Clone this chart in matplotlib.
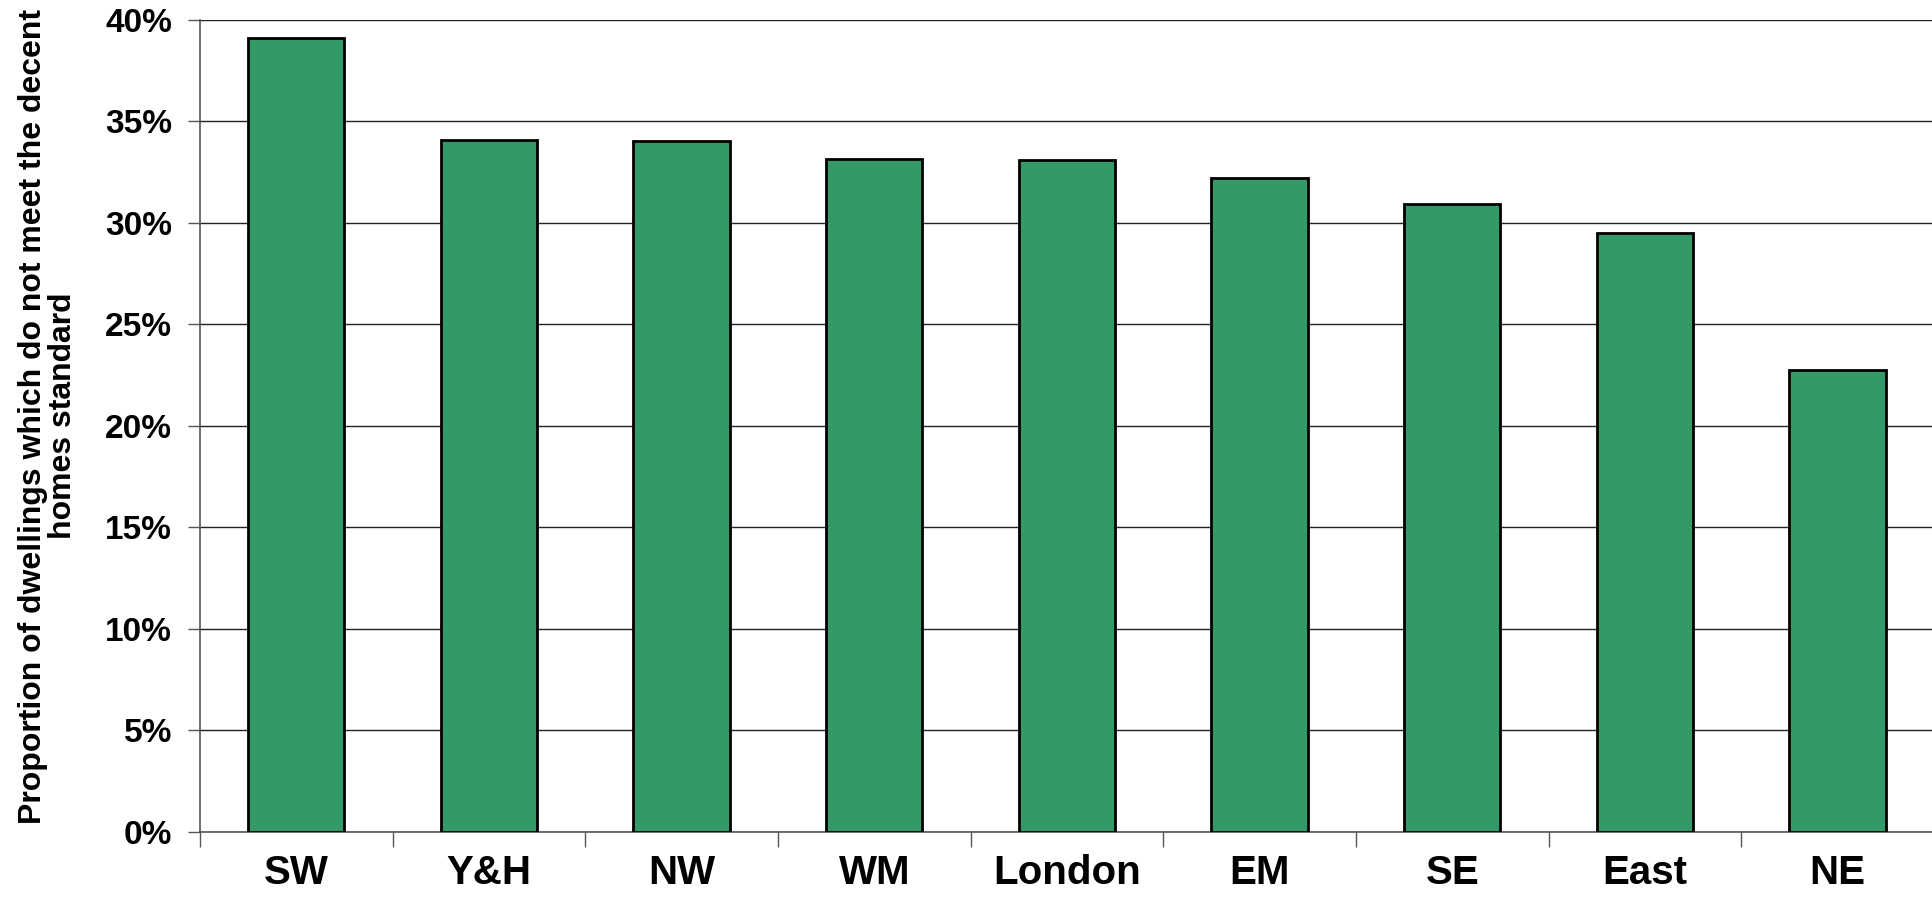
import numpy as np
import matplotlib.pyplot as plt
from matplotlib.ticker import PercentFormatter, FixedLocator

plt.rcParams['font.family'] = ['Liberation Sans', 'DejaVu Sans']

regions = ["SW", "Y&H", "NW", "WM", "London", "EM", "SE", "East", "NE"]
non_decent = [39.1, 34.1, 34.05, 33.15, 33.1, 32.2, 30.95, 29.5, 22.75]  # percent
y_ticks = [0, 5, 10, 15, 20, 25, 30, 35, 40]

fig = plt.figure(figsize=(19.32, 8.97), dpi=100)
ax = fig.add_axes([0.1035, 0.0725, 0.8975, 0.9052])

x = np.arange(len(regions))
ax.bar(x, non_decent, width=0.5, color="#339966", edgecolor="black", linewidth=2.0, zorder=3)

ax.set_xlim(-0.5, len(regions) - 0.5)
ax.set_ylim(0, 40)
ax.set_yticks(y_ticks)
ax.yaxis.set_major_formatter(PercentFormatter(decimals=0))
ax.grid(axis="y", color="#222222", linewidth=1.0, zorder=0)

# region names under bars, small ticks between categories
ax.set_xticks(x)
ax.set_xticklabels(regions, fontsize=29, fontweight="bold")
ax.xaxis.set_minor_locator(FixedLocator(np.arange(-0.5, len(regions), 1.0)))
ax.tick_params(axis="x", which="major", length=0, pad=16)
ax.tick_params(axis="x", which="minor", length=11, width=1.0, color="#555555")
ax.tick_params(axis="y", length=9, width=1.0, color="#555555", pad=11, labelsize=24)
for lab in ax.get_yticklabels():
    lab.set_fontweight("bold")

for s in ["top", "right"]:
    ax.spines[s].set_visible(False)
ax.spines["left"].set_color("#555555")
ax.spines["bottom"].set_color("#555555")
ax.spines["left"].set_linewidth(1.2)
ax.spines["bottom"].set_linewidth(1.2)

ax.set_ylabel("Proportion of dwellings which do not meet the decent\nhomes standard",
              fontsize=23, fontweight="bold", linespacing=1.0)
ax.yaxis.set_label_coords(-0.0705, 0.512)

fig.savefig("out.png", dpi=100)
